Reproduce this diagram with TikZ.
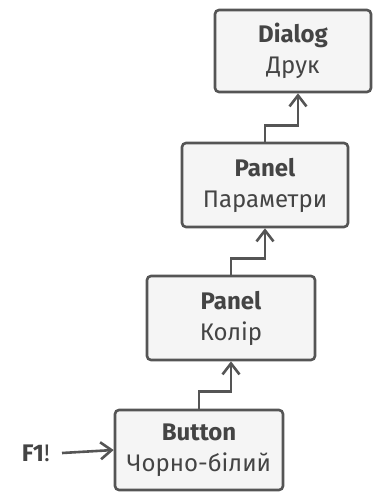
\documentclass[tikz,border=0pt]{standalone}
\usepackage{fontspec}
\setmainfont{Fira Sans}
\usetikzlibrary{arrows.meta}
\definecolor{edge}{HTML}{555555}
\definecolor{boxfill}{HTML}{F5F5F5}
\definecolor{txt}{HTML}{444444}
\begin{document}
\begin{tikzpicture}[x=1pt,y=-1pt,
  box/.style={draw=edge,fill=boxfill,line width=2.6pt,rounded corners=4pt,
    align=center,text=txt,inner sep=0pt,
    font=\fontsize{24}{31}\selectfont},
  conn/.style={draw=edge,line width=2.6pt,
    -{Straight Barb[length=11pt,width=17pt,line width=2.6pt]}}]
\useasboundingbox (0,0) rectangle (374,493);
\node[box,minimum width=156pt,minimum height=82pt] (dlg) at (293,51) {\textbf{Dialog}\\Друк};
\node[box,minimum width=166pt,minimum height=84pt] (par) at (265,185) {\textbf{Panel}\\Параметри};
\node[box,minimum width=168pt,minimum height=84pt] (kol) at (231,318) {\textbf{Panel}\\Колір};
\node[box,minimum width=168pt,minimum height=80pt] (btn) at (199,450) {\textbf{Button}\\Чорно-білий};
\node[text=txt,font=\fontsize{24}{28}\selectfont,anchor=east,inner sep=0pt] (f1) at (50,453) {\textbf{F1}!};
\draw[conn] (f1.east) ++(12,0) coordinate (f1s) -- (btn.west);
\draw[conn] (btn.north) -- ++(0,-17) -| (kol.south);
\draw[conn] (kol.north) -- ++(0,-16) -| (par.south);
\draw[conn] (par.north) -- ++(0,-16) -| ([xshift=5pt]dlg.south);
\end{tikzpicture}
\end{document}
